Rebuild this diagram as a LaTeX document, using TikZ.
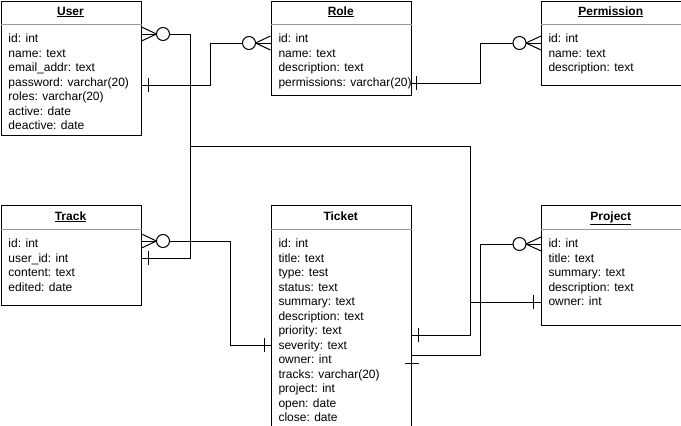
\documentclass[tikz,border=0pt]{standalone}
\usepackage{fontspec}
\setmainfont{Liberation Sans}
\usetikzlibrary{calc}
\newcommand\erfields[4]{%
  \foreach \t [count=\i from 0] in {#4}
    \node[field] (#1-f\i) at (#2, #3+42.5+14.5*\i) {\t};
}
\begin{document}
\begin{tikzpicture}[x=1pt,y=-1pt,line width=1pt,
  entity/.style={draw, rectangle, anchor=north west, inner sep=0pt, line width=1pt},
  etitle/.style={font=\bfseries\fontsize{12}{14}\selectfont, anchor=base, inner sep=0pt},
  field/.style={font=\fontsize{12}{14}\selectfont, anchor=base west, inner sep=0pt},
  hsep/.style={draw=black!40, line width=1pt},
  conn/.style={draw, line width=1pt},
  zmany/.pic={\draw (0,-7) -- (15,0) -- (0,7); \draw[fill=white] (21.5,0) circle[radius=6.5pt];},
  onebar/.pic={\draw (0,-7) -- (0,7);}
]
\useasboundingbox (0,0) rectangle (681,426);
\fill[white] (0,0) rectangle (681,426);

% entities
\node[entity, minimum width=140pt, minimum height=134pt] (user) at (0.5,0.5) {};
\node[entity, minimum width=140.5pt, minimum height=94.5pt] (role) at (270.5,0.5) {};
\node[entity, minimum width=139.5pt, minimum height=84.5pt] (perm) at (541,0.5) {};
\node[entity, minimum width=140pt, minimum height=100pt] (track) at (0.5,205) {};
\node[entity, minimum width=140.5pt, minimum height=220.5pt] (ticket) at (270.5,205) {};
\node[entity, minimum width=139.5pt, minimum height=120pt] (project) at (541,205) {};

% header separators
\foreach \b in {user,role,perm}
  \draw[hsep] (\b.west |- 0,24.5) -- (\b.east |- 0,24.5);
\foreach \b in {track,ticket,project}
  \draw[hsep] (\b.west |- 0,229.5) -- (\b.east |- 0,229.5);

% titles
\node[etitle] (user-t) at (70.5,15) {\underline{User}};
\node[etitle] (role-t) at (340.75,15) {\underline{Role}};
\node[etitle] (perm-t) at (610.75,15) {\underline{Permission}};
\node[etitle] (track-t) at (70.5,220) {\underline{Track}};
\node[etitle] (ticket-t) at (340.75,220) {Ticket};
\node[etitle] (project-t) at (610.75,220) {\underline{Project}};

% fields
\erfields{user}{8}{0}{id: int, name: text, email\_addr: text, password: varchar(20), roles: varchar(20), active: date, deactive: date}
\erfields{role}{278}{0}{id: int, name: text, description: text, permissions: varchar(20)}
\erfields{perm}{548}{0}{id: int, name: text, description: text}
\erfields{track}{8}{205}{id: int, user\_id: int, content: text, edited: date}
\erfields{ticket}{278}{205}{id: int, title: text, type: test, status: text, summary: text, description: text, priority: text, severity: text, owner: int, tracks: varchar(20), project: int, open: date, close: date}
\erfields{project}{548}{205}{id: int, title: text, summary: text, description: text, owner: int}

% connectors
\draw[conn] (user.east |- 0,34) -- (190,34) |- (track.east |- 0,258);
\draw[conn] (user.east |- 0,34) -- (190,34) |- (470,146) |- (ticket.east |- 0,335);
\draw[conn] (user.east |- 0,34) -- (190,34) |- (470,146) |- (project.west |- 0,302);
\draw[conn] (user.east |- 0,85) -| (210,43) -- (role.west |- 0,43);
\draw[conn] (role.east |- 0,83) -| (480,43) -- (perm.west |- 0,43);
\draw[conn] (track.east |- 0,241) -| (230,345) -- (ticket.west |- 0,345);
\draw[conn] (ticket.east |- 0,355) -| (480,244) -- (project.west |- 0,244);

% end markers
\pic at (user.east |- 0,34) {zmany};
\pic at (track.east |- 0,241) {zmany};
\pic[rotate=180] at (role.west |- 0,43) {zmany};
\pic[rotate=180] at (perm.west |- 0,43) {zmany};
\pic[rotate=180] at (project.west |- 0,244) {zmany};
\pic at ($(track.east |- 0,258)+(7,0)$) {onebar};
\pic at ($(user.east |- 0,85)+(7,0)$) {onebar};
\pic at ($(ticket.east |- 0,335)+(6,0)$) {onebar};
\pic at ($(project.west |- 0,302)+(-8,0)$) {onebar};
\pic at ($(role.east |- 0,83)+(4,0)$) {onebar};
\pic at ($(ticket.west |- 0,345)+(-6,0)$) {onebar};
\pic[rotate=90] at (ticket.east |- 0,363) {onebar};
\end{tikzpicture}
\end{document}
